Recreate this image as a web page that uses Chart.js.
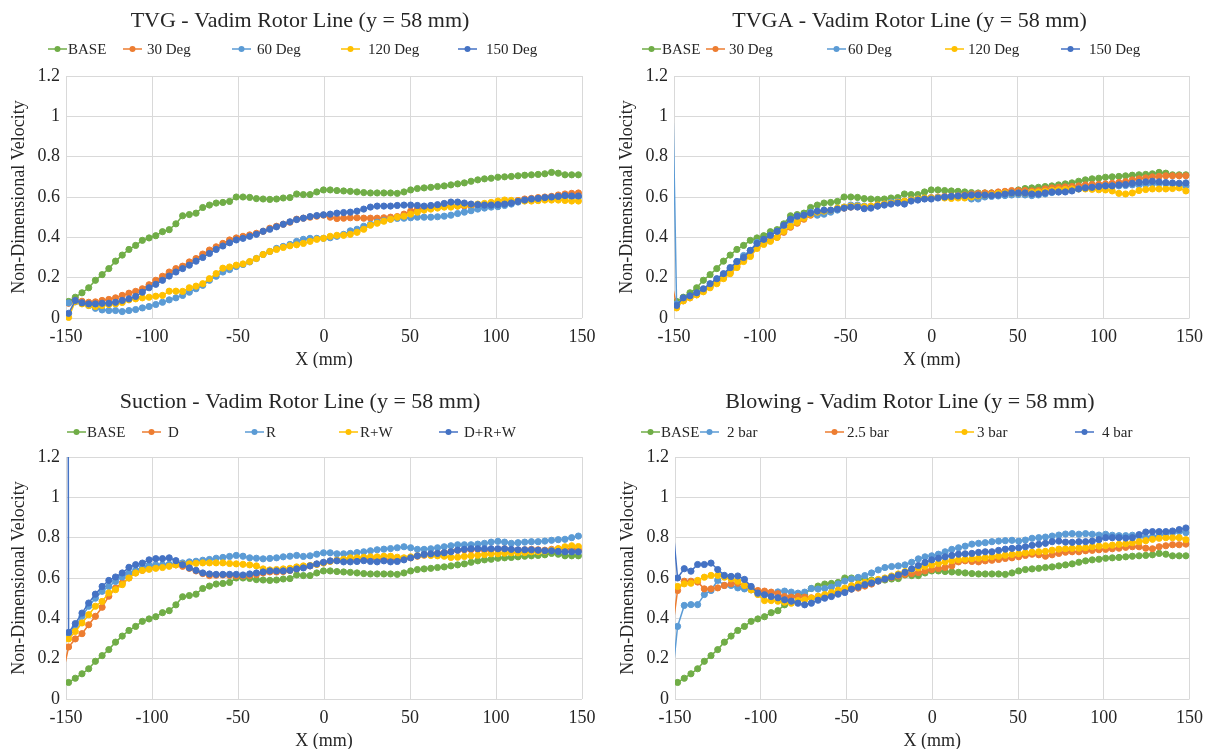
<!DOCTYPE html>
<html>
<head>
<meta charset="utf-8">
<title>Vadim Rotor Line (y = 58 mm)</title>
<script src="https://cdn.jsdelivr.net/npm/chart.js@4.4.1/dist/chart.umd.min.js"></script>
<style>
  html, body { margin: 0; padding: 0; background: #fff; }
  body { width: 1211px; height: 749px; position: relative; overflow: hidden; }
  canvas { position: absolute; }
</style>
</head>
<body>
<canvas id="tvg" width="605" height="368" style="left:0;top:0"></canvas>
<canvas id="tvga" width="603" height="368" style="left:608px;top:0"></canvas>
<canvas id="suction" width="605" height="368" style="left:0;top:381px"></canvas>
<canvas id="blowing" width="602" height="368" style="left:609px;top:381px"></canvas>
<script>
// measurement stations along the rotor line (mm)
const xPos = [
  -148.5, -144.6, -140.7, -136.8, -132.9, -129.0, -125.1, -121.2, -117.3, -113.4,
  -109.5, -105.6, -101.7, -97.8, -93.9, -90.0, -86.1, -82.2, -78.3, -74.4,
  -70.5, -66.6, -62.7, -58.8, -54.9, -51.0, -47.1, -43.2, -39.3, -35.4,
  -31.5, -27.6, -23.7, -19.8, -15.9, -12.0, -8.1, -4.2, -0.3, 3.6,
  7.5, 11.4, 15.3, 19.2, 23.1, 27.0, 30.9, 34.8, 38.7, 42.6,
  46.5, 50.4, 54.3, 58.2, 62.1, 66.0, 69.9, 73.8, 77.7, 81.6,
  85.5, 89.4, 93.3, 97.2, 101.1, 105.0, 108.9, 112.8, 116.7, 120.6,
  124.5, 128.4, 132.3, 136.2, 140.1, 144.0, 147.9
];
// station just left of the window (only its line segment shows)
const xLead = -152.4;

const base = [
  0.082, 0.103, 0.125, 0.150, 0.187, 0.215, 0.245, 0.282, 0.312, 0.340,
  0.360, 0.385, 0.397, 0.408, 0.428, 0.438, 0.467, 0.507, 0.513, 0.520,
  0.548, 0.560, 0.570, 0.573, 0.578, 0.600, 0.600, 0.598, 0.592, 0.590,
  0.588, 0.590, 0.595, 0.597, 0.615, 0.612, 0.612, 0.625, 0.635, 0.635,
  0.632, 0.630, 0.628, 0.625, 0.622, 0.620, 0.620, 0.620, 0.620, 0.618,
  0.625, 0.635, 0.642, 0.645, 0.648, 0.652, 0.655, 0.660, 0.665, 0.670,
  0.678, 0.685, 0.690, 0.693, 0.698, 0.700, 0.702, 0.705, 0.708, 0.710,
  0.712, 0.715, 0.722, 0.718, 0.710, 0.710, 0.710
];

// TVG
const tvg30 = [
  0.073, 0.087, 0.083, 0.078, 0.080, 0.087, 0.092, 0.100, 0.112, 0.123,
  0.132, 0.145, 0.165, 0.187, 0.207, 0.228, 0.245, 0.257, 0.278, 0.295,
  0.317, 0.337, 0.353, 0.370, 0.387, 0.397, 0.405, 0.412, 0.420, 0.430,
  0.445, 0.455, 0.465, 0.475, 0.490, 0.495, 0.500, 0.505, 0.510, 0.500,
  0.493, 0.495, 0.497, 0.497, 0.495, 0.495, 0.495, 0.497, 0.500, 0.503,
  0.515, 0.530, 0.540, 0.545, 0.548, 0.550, 0.553, 0.555, 0.555, 0.555,
  0.555, 0.557, 0.560, 0.562, 0.565, 0.568, 0.575, 0.583, 0.590, 0.593,
  0.597, 0.600, 0.603, 0.610, 0.615, 0.618, 0.620
];
const tvg60 = [
  0.075, 0.080, 0.073, 0.062, 0.048, 0.040, 0.037, 0.037, 0.032, 0.037,
  0.042, 0.050, 0.057, 0.067, 0.078, 0.090, 0.100, 0.112, 0.128, 0.145,
  0.162, 0.187, 0.207, 0.228, 0.240, 0.255, 0.265, 0.278, 0.295, 0.315,
  0.330, 0.345, 0.355, 0.365, 0.380, 0.390, 0.395, 0.395, 0.395, 0.398,
  0.405, 0.415, 0.432, 0.440, 0.455, 0.465, 0.475, 0.483, 0.490, 0.494,
  0.495, 0.497, 0.500, 0.500, 0.500, 0.502, 0.505, 0.510, 0.518, 0.525,
  0.532, 0.540, 0.545, 0.550, 0.552, 0.558, 0.565, 0.575, 0.583, 0.588,
  0.590, 0.592, 0.595, 0.598, 0.600, 0.600, 0.600
];
const tvg120 = [
  0.003, 0.082, 0.070, 0.062, 0.057, 0.062, 0.067, 0.070, 0.077, 0.090,
  0.095, 0.100, 0.103, 0.108, 0.112, 0.133, 0.133, 0.132, 0.150, 0.158,
  0.170, 0.195, 0.220, 0.247, 0.253, 0.262, 0.268, 0.280, 0.295, 0.315,
  0.330, 0.340, 0.350, 0.358, 0.363, 0.370, 0.380, 0.390, 0.395, 0.405,
  0.410, 0.410, 0.415, 0.425, 0.440, 0.460, 0.470, 0.480, 0.490, 0.500,
  0.505, 0.515, 0.525, 0.535, 0.540, 0.545, 0.550, 0.550, 0.555, 0.560,
  0.562, 0.565, 0.568, 0.573, 0.580, 0.585, 0.583, 0.580, 0.580, 0.580,
  0.582, 0.585, 0.585, 0.585, 0.583, 0.580, 0.580
];
const tvg150 = [
  0.023, 0.087, 0.075, 0.070, 0.070, 0.073, 0.073, 0.078, 0.087, 0.095,
  0.107, 0.128, 0.150, 0.167, 0.187, 0.208, 0.228, 0.245, 0.262, 0.282,
  0.300, 0.320, 0.340, 0.357, 0.373, 0.387, 0.395, 0.405, 0.415, 0.430,
  0.440, 0.452, 0.465, 0.477, 0.488, 0.495, 0.503, 0.508, 0.512, 0.515,
  0.520, 0.523, 0.525, 0.530, 0.540, 0.550, 0.555, 0.555, 0.555, 0.558,
  0.560, 0.560, 0.558, 0.555, 0.558, 0.562, 0.568, 0.575, 0.575, 0.570,
  0.565, 0.562, 0.560, 0.560, 0.562, 0.565, 0.570, 0.578, 0.585, 0.590,
  0.593, 0.597, 0.600, 0.603, 0.607, 0.605, 0.605
];

// TVGA
const tvga30 = [
  0.065, 0.085, 0.100, 0.115, 0.135, 0.155, 0.175, 0.200, 0.225, 0.255,
  0.285, 0.310, 0.350, 0.370, 0.385, 0.400, 0.425, 0.450, 0.470, 0.490,
  0.510, 0.520, 0.525, 0.530, 0.540, 0.545, 0.550, 0.552, 0.550, 0.553,
  0.560, 0.565, 0.570, 0.575, 0.578, 0.585, 0.590, 0.593, 0.597, 0.600,
  0.603, 0.605, 0.607, 0.610, 0.615, 0.617, 0.620, 0.620, 0.625, 0.628,
  0.632, 0.632, 0.632, 0.630, 0.632, 0.640, 0.645, 0.648, 0.650, 0.652,
  0.655, 0.660, 0.662, 0.663, 0.665, 0.668, 0.672, 0.676, 0.685, 0.690,
  0.695, 0.700, 0.702, 0.705, 0.705, 0.705, 0.705
];
const tvga60 = [
  0.070, 0.090, 0.105, 0.120, 0.140, 0.160, 0.185, 0.215, 0.245, 0.280,
  0.310, 0.335, 0.375, 0.385, 0.410, 0.430, 0.455, 0.480, 0.500, 0.510,
  0.525, 0.510, 0.515, 0.525, 0.535, 0.550, 0.560, 0.560, 0.555, 0.550,
  0.555, 0.565, 0.575, 0.578, 0.580, 0.585, 0.590, 0.592, 0.595, 0.598,
  0.600, 0.603, 0.605, 0.600, 0.590, 0.590, 0.600, 0.603, 0.605, 0.607,
  0.610, 0.612, 0.610, 0.607, 0.610, 0.615, 0.622, 0.625, 0.630, 0.635,
  0.640, 0.645, 0.648, 0.652, 0.655, 0.655, 0.655, 0.657, 0.660, 0.660,
  0.662, 0.665, 0.667, 0.665, 0.665, 0.660, 0.655
];
const tvga120 = [
  0.050, 0.085, 0.100, 0.115, 0.130, 0.150, 0.170, 0.195, 0.220, 0.250,
  0.280, 0.305, 0.345, 0.365, 0.380, 0.400, 0.430, 0.455, 0.475, 0.495,
  0.515, 0.525, 0.530, 0.535, 0.545, 0.550, 0.555, 0.555, 0.552, 0.555,
  0.560, 0.565, 0.570, 0.575, 0.580, 0.585, 0.590, 0.595, 0.595, 0.597,
  0.595, 0.593, 0.595, 0.595, 0.600, 0.605, 0.610, 0.612, 0.618, 0.620,
  0.620, 0.620, 0.620, 0.623, 0.625, 0.628, 0.633, 0.636, 0.638, 0.640,
  0.640, 0.640, 0.638, 0.636, 0.635, 0.630, 0.618, 0.615, 0.620, 0.632,
  0.637, 0.640, 0.640, 0.640, 0.642, 0.645, 0.630
];
const tvga150 = [
  0.062, 0.100, 0.110, 0.125, 0.145, 0.170, 0.195, 0.220, 0.250, 0.280,
  0.300, 0.335, 0.370, 0.390, 0.410, 0.430, 0.460, 0.490, 0.505, 0.510,
  0.520, 0.530, 0.535, 0.535, 0.540, 0.545, 0.550, 0.550, 0.542, 0.545,
  0.555, 0.560, 0.565, 0.570, 0.565, 0.580, 0.585, 0.590, 0.590, 0.595,
  0.600, 0.603, 0.605, 0.607, 0.610, 0.610, 0.610, 0.608, 0.610, 0.615,
  0.620, 0.620, 0.620, 0.615, 0.615, 0.620, 0.625, 0.625, 0.625, 0.630,
  0.640, 0.645, 0.648, 0.652, 0.655, 0.655, 0.660, 0.662, 0.668, 0.672,
  0.675, 0.678, 0.675, 0.672, 0.670, 0.668, 0.670
];

// Suction
const sucD = [
  0.258, 0.298, 0.324, 0.368, 0.410, 0.455, 0.510, 0.550, 0.575, 0.600,
  0.625, 0.638, 0.648, 0.652, 0.658, 0.662, 0.665, 0.658, 0.648, 0.635,
  0.622, 0.612, 0.614, 0.615, 0.613, 0.610, 0.610, 0.612, 0.617, 0.625,
  0.630, 0.630, 0.632, 0.637, 0.645, 0.652, 0.660, 0.668, 0.675, 0.683,
  0.688, 0.690, 0.690, 0.690, 0.692, 0.695, 0.695, 0.692, 0.690, 0.690,
  0.695, 0.700, 0.708, 0.713, 0.718, 0.722, 0.726, 0.732, 0.737, 0.740,
  0.740, 0.742, 0.738, 0.740, 0.742, 0.745, 0.740, 0.738, 0.740, 0.742,
  0.740, 0.738, 0.742, 0.745, 0.747, 0.742, 0.740
];
const sucR = [
  0.322, 0.360, 0.410, 0.460, 0.500, 0.534, 0.558, 0.583, 0.605, 0.625,
  0.638, 0.655, 0.663, 0.665, 0.666, 0.668, 0.670, 0.675, 0.680, 0.683,
  0.688, 0.692, 0.698, 0.702, 0.707, 0.712, 0.708, 0.700, 0.698, 0.695,
  0.697, 0.700, 0.705, 0.708, 0.712, 0.707, 0.710, 0.718, 0.725, 0.725,
  0.720, 0.720, 0.722, 0.726, 0.730, 0.735, 0.740, 0.743, 0.746, 0.750,
  0.755, 0.750, 0.742, 0.742, 0.745, 0.750, 0.755, 0.760, 0.765, 0.765,
  0.765, 0.768, 0.772, 0.778, 0.782, 0.778, 0.772, 0.775, 0.778, 0.780,
  0.780, 0.783, 0.787, 0.790, 0.792, 0.800, 0.808
];
const sucRW = [
  0.298, 0.335, 0.377, 0.418, 0.460, 0.484, 0.526, 0.542, 0.567, 0.600,
  0.625, 0.638, 0.643, 0.648, 0.652, 0.658, 0.665, 0.668, 0.670, 0.673,
  0.675, 0.675, 0.675, 0.675, 0.672, 0.670, 0.668, 0.665, 0.660, 0.645,
  0.640, 0.642, 0.645, 0.648, 0.655, 0.660, 0.662, 0.668, 0.675, 0.683,
  0.688, 0.693, 0.700, 0.700, 0.703, 0.705, 0.705, 0.708, 0.708, 0.703,
  0.700, 0.705, 0.710, 0.715, 0.712, 0.710, 0.708, 0.702, 0.703, 0.707,
  0.710, 0.713, 0.716, 0.720, 0.720, 0.723, 0.725, 0.725, 0.726, 0.730,
  0.730, 0.733, 0.738, 0.745, 0.755, 0.760, 0.756
];
const sucDRW = [
  0.330, 0.374, 0.426, 0.476, 0.520, 0.558, 0.588, 0.605, 0.625, 0.653,
  0.666, 0.674, 0.690, 0.696, 0.696, 0.700, 0.686, 0.666, 0.650, 0.638,
  0.625, 0.620, 0.618, 0.618, 0.618, 0.618, 0.615, 0.620, 0.625, 0.630,
  0.635, 0.635, 0.635, 0.638, 0.645, 0.650, 0.660, 0.670, 0.678, 0.685,
  0.685, 0.680, 0.680, 0.682, 0.686, 0.682, 0.680, 0.685, 0.680, 0.682,
  0.690, 0.700, 0.710, 0.717, 0.720, 0.722, 0.725, 0.730, 0.738, 0.742,
  0.745, 0.745, 0.745, 0.745, 0.745, 0.745, 0.742, 0.740, 0.740, 0.740,
  0.738, 0.735, 0.735, 0.732, 0.730, 0.730, 0.730
];

// Blowing
const blow2 = [
  0.360, 0.464, 0.468, 0.468, 0.518, 0.538, 0.588, 0.563, 0.563, 0.551,
  0.546, 0.541, 0.530, 0.520, 0.525, 0.531, 0.535, 0.530, 0.525, 0.530,
  0.548, 0.545, 0.548, 0.555, 0.570, 0.585, 0.595, 0.603, 0.612, 0.625,
  0.640, 0.652, 0.657, 0.660, 0.665, 0.678, 0.695, 0.705, 0.710, 0.718,
  0.730, 0.742, 0.750, 0.758, 0.768, 0.772, 0.775, 0.780, 0.783, 0.785,
  0.787, 0.783, 0.788, 0.797, 0.800, 0.803, 0.808, 0.813, 0.818, 0.820,
  0.817, 0.820, 0.817, 0.813, 0.817, 0.812, 0.810, 0.810, 0.812, 0.808,
  0.800, 0.805, 0.812, 0.818, 0.825, 0.830, 0.825
];
const blow25 = [
  0.538, 0.584, 0.584, 0.580, 0.546, 0.546, 0.551, 0.563, 0.571, 0.574,
  0.563, 0.551, 0.538, 0.535, 0.530, 0.522, 0.508, 0.505, 0.508, 0.505,
  0.502, 0.505, 0.510, 0.518, 0.528, 0.538, 0.545, 0.550, 0.560, 0.570,
  0.585, 0.595, 0.603, 0.610, 0.618, 0.622, 0.627, 0.635, 0.642, 0.647,
  0.652, 0.660, 0.680, 0.685, 0.682, 0.680, 0.685, 0.688, 0.692, 0.697,
  0.700, 0.705, 0.712, 0.718, 0.715, 0.708, 0.715, 0.722, 0.728, 0.730,
  0.730, 0.735, 0.737, 0.740, 0.742, 0.745, 0.748, 0.752, 0.755, 0.755,
  0.748, 0.745, 0.755, 0.760, 0.765, 0.765, 0.768
];
const blow3 = [
  0.558, 0.571, 0.574, 0.588, 0.604, 0.613, 0.613, 0.604, 0.596, 0.584,
  0.563, 0.541, 0.518, 0.488, 0.488, 0.485, 0.480, 0.475, 0.488, 0.492,
  0.500, 0.510, 0.518, 0.528, 0.540, 0.550, 0.562, 0.570, 0.578, 0.585,
  0.593, 0.600, 0.610, 0.620, 0.632, 0.642, 0.650, 0.658, 0.665, 0.672,
  0.680, 0.686, 0.690, 0.693, 0.695, 0.698, 0.700, 0.705, 0.708, 0.713,
  0.717, 0.720, 0.725, 0.728, 0.730, 0.732, 0.738, 0.743, 0.745, 0.747,
  0.748, 0.750, 0.755, 0.758, 0.760, 0.763, 0.767, 0.770, 0.775, 0.780,
  0.785, 0.792, 0.797, 0.800, 0.800, 0.800, 0.790
];
const blow4 = [
  0.600, 0.646, 0.634, 0.667, 0.667, 0.674, 0.642, 0.613, 0.608, 0.610,
  0.593, 0.558, 0.525, 0.517, 0.508, 0.502, 0.492, 0.485, 0.475, 0.467,
  0.475, 0.490, 0.500, 0.508, 0.520, 0.528, 0.545, 0.555, 0.567, 0.575,
  0.585, 0.595, 0.605, 0.615, 0.628, 0.645, 0.662, 0.677, 0.690, 0.698,
  0.705, 0.712, 0.718, 0.720, 0.722, 0.727, 0.730, 0.730, 0.737, 0.743,
  0.747, 0.750, 0.755, 0.762, 0.767, 0.772, 0.780, 0.783, 0.778, 0.777,
  0.780, 0.780, 0.783, 0.790, 0.800, 0.800, 0.800, 0.798, 0.800, 0.815,
  0.828, 0.830, 0.830, 0.830, 0.833, 0.840, 0.848
];

// values at xLead (null = series starts inside the window)
const tvgaLead = [null, 0.21, 1.9, null, null];
const sucLead = [null, 0.104, null, null, 20];
const blowLead = [null, 0.04, 0.29, null, 0.96];

const GREEN = '#70AD47', ORANGE = '#ED7D31', LBLUE = '#5B9BD5', GOLD = '#FFC000', BLUE = '#4472C4';
const FONT = '"Liberation Serif", "Times New Roman", serif';
const INK = '#262626';

// spreadsheet-style legend: line sample with a dot, items in fixed slots
const slotLegend = {
  id: 'slotLegend',
  afterDraw(chart, args, opts) {
    const ctx = chart.ctx;
    ctx.save();
    chart.data.datasets.forEach((ds, i) => {
      const lx = opts.lineX[i], y = opts.y;
      ctx.strokeStyle = ds.borderColor;
      ctx.lineWidth = 1.5;
      ctx.beginPath();
      ctx.moveTo(lx, y);
      ctx.lineTo(lx + 19, y);
      ctx.stroke();
      ctx.fillStyle = ds.borderColor;
      ctx.beginPath();
      ctx.arc(lx + 9.5, y, 3, 0, Math.PI * 2);
      ctx.fill();
      ctx.fillStyle = INK;
      ctx.font = '15px ' + FONT;
      ctx.textBaseline = 'middle';
      ctx.fillText(ds.label, opts.textX[i], y + 1);
    });
    ctx.restore();
  }
};

function drawPanel(id, title, names, colors, series, leads, legend, padL, padR) {
  const datasets = series.map((vals, i) => {
    const pts = xPos.map((x, j) => ({ x: x, y: vals[j] }));
    if (leads && leads[i] !== null) pts.unshift({ x: xLead, y: leads[i] });
    return {
      label: names[i],
      data: pts,
      borderColor: colors[i],
      backgroundColor: colors[i],
      pointBackgroundColor: colors[i],
      pointBorderColor: colors[i],
      borderWidth: 1.5,
      pointRadius: c => (c.raw && c.raw.x < -150 ? 0 : 3.1),
      pointBorderWidth: 1,
      order: series.length - i,
      clip: { left: 0, top: 0, right: 4, bottom: 4 }
    };
  });

  return new Chart(document.getElementById(id), {
    type: 'line',
    data: { datasets: datasets },
    options: {
      responsive: false,
      animation: false,
      devicePixelRatio: 1,
      layout: { padding: { left: padL, right: padR, top: 0, bottom: 0 } },
      plugins: {
        legend: { display: false },
        tooltip: { enabled: false },
        title: {
          display: true,
          text: title,
          color: INK,
          font: { family: FONT, size: 22, weight: 'normal' },
          padding: { top: 8, bottom: 41.6 }
        },
        slotLegend: legend
      },
      scales: {
        x: {
          type: 'linear',
          min: -150,
          max: 150,
          ticks: { stepSize: 50, padding: 8, color: INK, maxRotation: 0, font: { family: FONT, size: 18 } },
          grid: { color: '#d9d9d9', drawTicks: false },
          border: { display: false },
          title: {
            display: true, text: 'X (mm)', color: INK,
            font: { family: FONT, size: 18 }, padding: { top: 0, bottom: -3 }
          },
          afterFit: s => { s.height = 50; }
        },
        y: {
          min: 0,
          max: 1.2,
          ticks: {
            stepSize: 0.2, padding: 6, color: INK, font: { family: FONT, size: 18 },
            callback: v => String(Math.round(v * 10) / 10)
          },
          grid: { color: '#d9d9d9', drawTicks: false },
          border: { display: false },
          title: {
            display: true, text: 'Non-Dimensional Velocity', color: INK,
            font: { family: FONT, size: 18 }, padding: { top: 8.2 - padL, bottom: 0 }
          },
          afterFit: s => { s.width = 66 - padL; }
        }
      }
    },
    plugins: [slotLegend]
  });
}

const degNames = ['BASE', '30 Deg', '60 Deg', '120 Deg', '150 Deg'];
const degColors = [GREEN, ORANGE, LBLUE, GOLD, BLUE];

drawPanel('tvg', 'TVG - Vadim Rotor Line (y = 58 mm)', degNames, degColors,
  [base, tvg30, tvg60, tvg120, tvg150], null,
  { y: 49, lineX: [48, 123, 232, 341, 458], textX: [68, 147, 257, 368, 486] }, 18, 23);

drawPanel('tvga', 'TVGA - Vadim Rotor Line (y = 58 mm)', degNames, degColors,
  [base, tvga30, tvga60, tvga120, tvga150], tvgaLead,
  { y: 49, lineX: [34, 98, 219, 337, 453], textX: [54, 121, 240, 360, 481] }, 20, 20);

drawPanel('suction', 'Suction - Vadim Rotor Line (y = 58 mm)', ['BASE', 'D', 'R', 'R+W', 'D+R+W'],
  [GREEN, ORANGE, LBLUE, GOLD, BLUE],
  [base, sucD, sucR, sucRW, sucDRW], sucLead,
  { y: 51, lineX: [67, 142, 245, 339, 439], textX: [87, 168, 266, 360, 464] }, 18, 23);

drawPanel('blowing', 'Blowing - Vadim Rotor Line (y = 58 mm)', ['BASE', '2 bar', '2.5 bar', '3 bar', '4 bar'],
  [GREEN, LBLUE, ORANGE, GOLD, BLUE],
  [base, blow2, blow25, blow3, blow4], blowLead,
  { y: 51, lineX: [32, 91, 216, 346, 466], textX: [52, 118, 238, 368, 493] }, 20, 20);
</script>
</body>
</html>
